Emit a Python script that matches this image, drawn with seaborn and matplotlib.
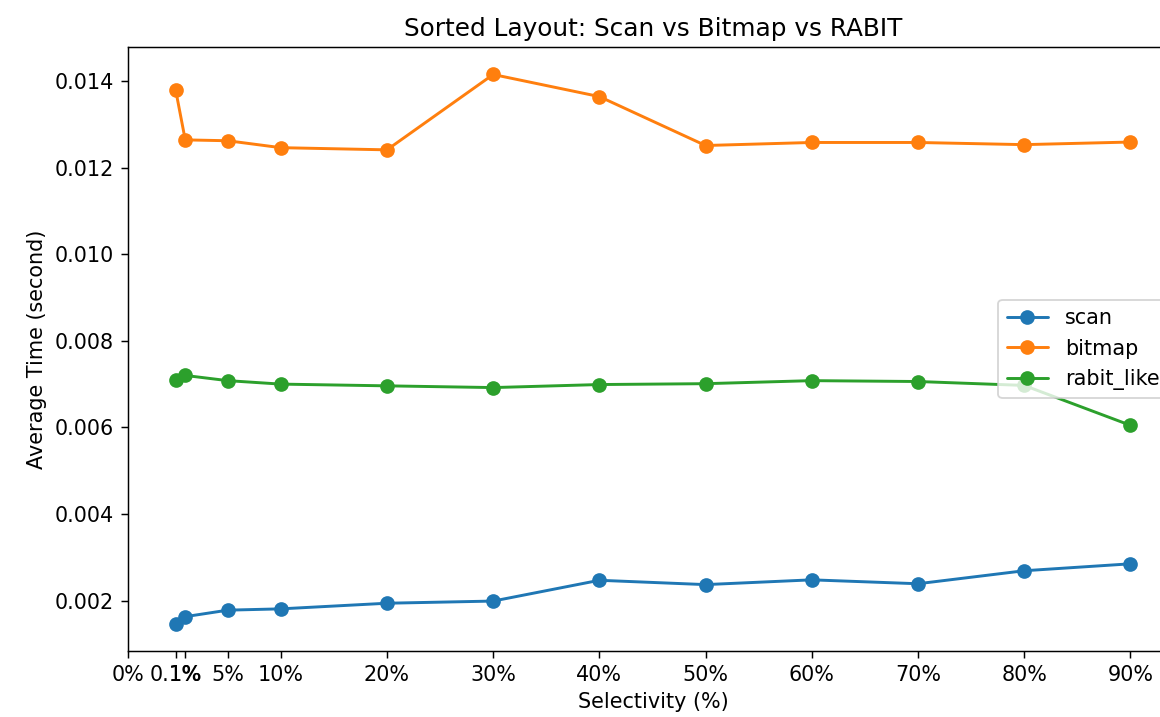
import matplotlib
matplotlib.use("Agg")
import matplotlib.pyplot as plt
import seaborn as sns
import pandas as pd

# Selectivity levels (%) and average query times (seconds)
selectivity = [0.1, 1, 5, 10, 20, 30, 40, 50, 60, 70, 80, 90]
tick_labels = ["0.1%", "1%", "5%", "10%", "20%", "30%", "40%", "50%", "60%", "70%", "80%", "90%"]

scan = [0.00147, 0.00163, 0.00178, 0.00181, 0.00194, 0.00199, 0.00247, 0.00237, 0.00248, 0.00239, 0.00269, 0.00285]
bitmap = [0.01379, 0.01264, 0.01262, 0.01246, 0.01241, 0.01415, 0.01364, 0.01251, 0.01258, 0.01258, 0.01253, 0.01259]
rabit_like = [0.00709, 0.00720, 0.00708, 0.00700, 0.00696, 0.00692, 0.00699, 0.00701, 0.00708, 0.00706, 0.00697, 0.00605]

series = {"scan": scan, "bitmap": bitmap, "rabit_like": rabit_like}

sns.set_style("white")
plt.rcParams["font.family"] = ["DejaVu Sans"]
for key in ("text.color", "axes.labelcolor", "xtick.color", "ytick.color"):
    plt.rcParams[key] = "black"

FS = 11.3

fig = plt.figure(figsize=(1160 / 132, 717 / 132), dpi=132)
ax = fig.add_axes([0.1103, 0.092, 0.9052, 0.8424])

palette = sns.color_palette("tab10")
for i, (name, vals) in enumerate(series.items()):
    df = pd.DataFrame({"sel": selectivity, "t": vals})
    sns.lineplot(data=df, x="sel", y="t", ax=ax, color=palette[i], marker="o",
                 markersize=8, markeredgewidth=0, linewidth=1.6, label=name)

for s in ax.spines.values():
    s.set_color("black")
    s.set_linewidth(0.8)
ax.tick_params(axis="both", which="both", length=4, width=0.8, color="black",
               labelsize=FS, direction="out", bottom=True, left=True)

left, right = ax.get_xlim()
ax.set_xticks([left] + selectivity)
ax.set_xticklabels(["0%"] + tick_labels)
ax.set_xlim(left, right)

ax.set_title("Sorted Layout: Scan vs Bitmap vs RABIT", fontsize=13.5)
ax.set_xlabel("Selectivity (%)", fontsize=FS)
ax.set_ylabel("Average Time (second)", fontsize=FS)
ax.legend(loc="center right", fontsize=FS, frameon=True)

fig.savefig("out.png", dpi=132)
